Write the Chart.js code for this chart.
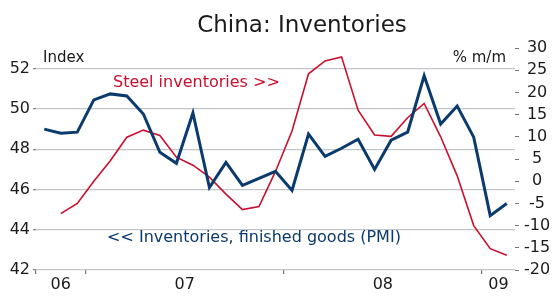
<!DOCTYPE html>
<html>
<head>
<meta charset="utf-8">
<script src="https://cdn.jsdelivr.net/npm/chart.js@4"></script>
<style>
  html, body { margin: 0; padding: 0; background: #fff; }
  #wrap { width: 554px; height: 296px; }
</style>
</head>
<body>
<div id="wrap"><canvas id="myChart" width="554" height="296"></canvas></div>
<script>
const months = ['Oct 06', 'Nov 06', 'Dec 06',
    'Jan 07', 'Feb 07', 'Mar 07', 'Apr 07', 'May 07', 'Jun 07', 'Jul 07', 'Aug 07', 'Sep 07', 'Oct 07', 'Nov 07', 'Dec 07',
    'Jan 08', 'Feb 08', 'Mar 08', 'Apr 08', 'May 08', 'Jun 08', 'Jul 08', 'Aug 08', 'Sep 08', 'Oct 08', 'Nov 08', 'Dec 08',
    'Jan 09', 'Feb 09'];

// PMI finished goods inventories, index (left axis)
const pmiInventories = [49.0, 48.8, 48.85,
    50.45, 50.75, 50.65, 49.75, 47.85, 47.3, 49.8, 46.1, 47.35, 46.2, 46.55, 46.9,
    45.95, 48.75, 47.65, 48.05, 48.5, 47.0, 48.45, 48.85, 51.65, 49.25, 50.15, 48.6,
    44.7, 45.3];

// steel inventories, % m/m (right axis)
const steelInventories = [null, -7.3, -5.0,
    0.0, 4.6, 9.9, 11.5, 10.3, 5.4, 3.6, 0.9, -2.9, -6.4, -5.7, 2.2,
    11.3, 24.2, 27.1, 28.0, 16.0, 10.4, 10.1, 14.3, 17.5, 10.0, 1.2, -10.0,
    -15.2, -16.7];

const leftTicks = [42, 44, 46, 48, 50, 52];
const yearLabels = ['06', '07', '08', '09'];

const blue = '#0b3a6c';
const red = '#c8102e';
const font = 'DejaVu Sans';

// year boundaries sit between Dec and Jan
const xMin = -0.5;
const xMax = months.length - 0.5;
const bounds = [xMin];
months.forEach((m, i) => { if (m.startsWith('Jan')) bounds.push(i - 0.5); });
const labelPos = {};
bounds.forEach((b, k) => {
    const next = k + 1 < bounds.length ? bounds[k + 1] : xMax;
    labelPos[(b + next) / 2] = yearLabels[k];
});

const textPlugin = {
    id: 'texts',
    afterDraw(chart) {
        const c = chart.ctx;
        const x = chart.scales.x;
        const y = chart.scales.y;
        c.save();
        c.fillStyle = '#1a1a1a';
        c.font = '23px "' + font + '"';
        c.textAlign = 'center';
        c.textBaseline = 'alphabetic';
        c.fillText('China: Inventories', 302, 31.5);

        c.font = '15px "' + font + '"';
        c.textAlign = 'left';
        c.fillText('Index', 43, 62);
        c.textAlign = 'right';
        c.fillText('% m/m', 506, 62);

        c.font = '16px "' + font + '"';
        c.textAlign = 'left';
        c.textBaseline = 'middle';
        c.fillStyle = red;
        c.fillText('Steel inventories >>', x.getPixelForValue(4.16), y.getPixelForValue(51.3));
        c.fillStyle = blue;
        c.fillText('<< Inventories, finished goods (PMI)', x.getPixelForValue(3.8), y.getPixelForValue(43.6));
        c.restore();
    }
};

const ctx = document.getElementById('myChart').getContext('2d');

new Chart(ctx, {
    type: 'line',
    data: {
        datasets: [{
            label: 'Inventories, finished goods (PMI)',
            data: pmiInventories.map((v, i) => ({ x: i, y: v })),
            borderColor: blue,
            borderWidth: 3,
            pointRadius: 0,
            tension: 0,
            yAxisID: 'y'
        }, {
            label: 'Steel inventories',
            data: steelInventories.map((v, i) => ({ x: i, y: v })),
            borderColor: red,
            borderWidth: 1.6,
            pointRadius: 0,
            tension: 0,
            yAxisID: 'y1'
        }]
    },
    options: {
        responsive: false,
        animation: false,
        layout: {
            padding: { top: 48, left: 0, right: 0, bottom: 0 }
        },
        scales: {
            x: {
                type: 'linear',
                min: xMin,
                max: xMax,
                afterBuildTicks: (scale) => {
                    const vals = bounds.concat(Object.keys(labelPos).map(Number)).sort((a, b) => a - b);
                    scale.ticks = vals.map(v => ({ value: v }));
                },
                afterFit: (scale) => { scale.height = 26; },
                border: { display: false },
                grid: {
                    drawOnChartArea: false,
                    tickLength: 4,
                    tickColor: (c) => (c.tick && labelPos[c.tick.value] !== undefined) ? 'rgba(0,0,0,0)' : '#777',
                    lineWidth: 1.2
                },
                ticks: {
                    autoSkip: false,
                    maxRotation: 0,
                    padding: 1,
                    color: '#1a1a1a',
                    font: { family: font, size: 16 },
                    callback: (v) => labelPos[v] !== undefined ? labelPos[v] : ''
                }
            },
            y: {
                position: 'left',
                min: 42,
                max: 53.03,
                afterBuildTicks: (scale) => {
                    scale.ticks = leftTicks.map(v => ({ value: v }));
                },
                afterFit: (scale) => { scale.width = 36; },
                border: { display: false },
                grid: {
                    color: '#c3c6c9',
                    lineWidth: 1.3,
                    tickLength: 3,
                    tickColor: '#888'
                },
                ticks: {
                    padding: 3,
                    color: '#1a1a1a',
                    font: { family: font, size: 16 }
                }
            },
            y1: {
                position: 'right',
                min: -20,
                max: 30,
                afterFit: (scale) => { scale.width = 39; },
                border: { display: false },
                grid: {
                    drawOnChartArea: false,
                    tickLength: 4,
                    tickColor: '#777'
                },
                ticks: {
                    stepSize: 5,
                    padding: 5,
                    crossAlign: 'center',
                    color: '#1a1a1a',
                    font: { family: font, size: 16 }
                }
            }
        },
        plugins: {
            legend: { display: false },
            tooltip: { enabled: false },
            title: { display: false }
        }
    },
    plugins: [textPlugin]
});
</script>
</body>
</html>
